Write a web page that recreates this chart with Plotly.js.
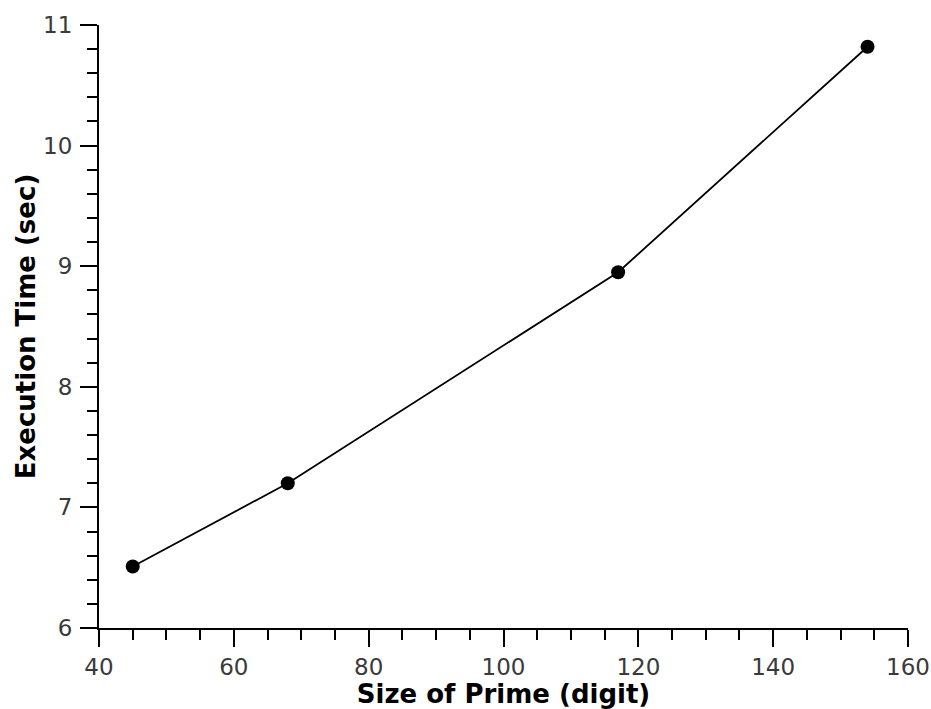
<!DOCTYPE html>
<html>
<head>
<meta charset="utf-8">
<script src="https://cdn.plot.ly/plotly-3.0.1.min.js"></script>
<style>
  html, body { margin: 0; padding: 0; background: #fff; }
  #chart { width: 931px; height: 709px; }
</style>
</head>
<body>
<div id="chart"></div>
<script>
// Prime size (digits) vs. measured execution time (seconds)
const primeDigits = [45, 68, 117, 154];
const execSeconds = [6.51, 7.20, 8.95, 10.82];

const xTickVals = [40, 60, 80, 100, 120, 140, 160];
const yTickVals = [6, 7, 8, 9, 10, 11];

const trace = {
  x: primeDigits,
  y: execSeconds,
  type: 'scatter',
  mode: 'lines+markers',
  line: { color: '#000', width: 1.8 },
  marker: { color: '#000', size: 14 },
  hoverinfo: 'x+y'
};

const axisCommon = {
  showgrid: false,
  zeroline: false,
  showline: true,
  linecolor: '#000',
  linewidth: 2,
  ticks: 'outside',
  ticklen: 17,
  tickwidth: 2,
  tickcolor: '#000',
  tickfont: { family: 'DejaVu Sans', size: 23, color: '#3a3a3a' },
  mirror: false
};

const titleFont = { family: 'DejaVu Sans', size: 26, color: '#000', weight: 'bold' };

const layout = {
  width: 931,
  height: 709,
  margin: { l: 99, r: 23, t: 25, b: 81 },
  paper_bgcolor: '#fff',
  plot_bgcolor: '#fff',
  showlegend: false,
  xaxis: Object.assign({}, axisCommon, {
    range: [40, 160],
    tickmode: 'array',
    tickvals: xTickVals,
    minor: { dtick: 5, ticks: 'outside', ticklen: 10, tickwidth: 2, tickcolor: '#000', showgrid: false },
    title: { text: 'Size of Prime (digit)', font: titleFont, standoff: 0 }
  }),
  yaxis: Object.assign({}, axisCommon, {
    range: [6, 11],
    tickmode: 'array',
    tickvals: yTickVals,
    ticklabelstandoff: 3,
    minor: { dtick: 0.2, ticks: 'outside', ticklen: 10, tickwidth: 2, tickcolor: '#000', showgrid: false },
    title: { text: 'Execution Time (sec)', font: titleFont, standoff: 0 }
  })
};

Plotly.newPlot('chart', [trace], layout, { displayModeBar: false, staticPlot: true });
</script>
</body>
</html>
